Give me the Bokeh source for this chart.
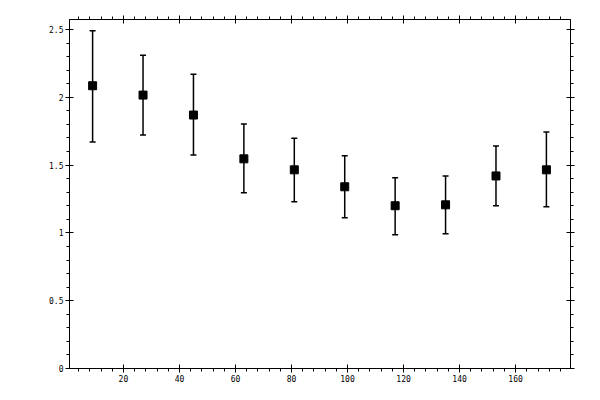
from bokeh.plotting import figure
from bokeh.models import (ColumnDataSource, Whisker, TeeHead, LinearAxis,
                          SingleIntervalTicker, Range1d, CustomJSTickFormatter)
from bokeh.embed import file_html
from bokeh.resources import INLINE

# data
x_vals = [9, 27, 45, 63, 81, 99, 117, 135, 153, 171]
y_vals = [2.085, 2.016, 1.869, 1.546, 1.465, 1.340, 1.200, 1.207, 1.420, 1.465]
y_upper = [2.491, 2.310, 2.170, 1.803, 1.697, 1.568, 1.406, 1.420, 1.641, 1.744]
y_lower = [1.671, 1.722, 1.575, 1.296, 1.229, 1.112, 0.987, 0.994, 1.200, 1.193]

src = ColumnDataSource(dict(x=x_vals, y=y_vals, upper=y_upper, lower=y_lower))

p = figure(width=584, height=384, output_backend="svg", toolbar_location=None,
           x_range=Range1d(0.75, 179.6), y_range=Range1d(0, 2.5735),
           x_axis_location=None, y_axis_location=None)
p.min_border_left = 69
p.min_border_right = 14
p.min_border_top = 19
p.min_border_bottom = 15
p.xgrid.visible = False
p.ygrid.visible = False
p.outline_line_color = "black"
p.background_fill_color = "white"
p.border_fill_color = "white"

FONT = "DejaVu Sans Mono"


def style(ax, labels=True):
    ax.axis_line_color = "black"
    ax.axis_line_width = 1
    ax.major_tick_line_color = "black"
    ax.minor_tick_line_color = "black"
    ax.major_tick_in = 4
    ax.major_tick_out = 4
    ax.minor_tick_in = 0
    ax.minor_tick_out = 3
    ax.major_label_text_font = FONT
    ax.major_label_text_font_size = "8px"
    ax.major_label_text_color = "black"
    ax.major_label_standoff = 2
    if not labels:
        ax.formatter = CustomJSTickFormatter(code="return ''")
        ax.major_label_standoff = 0


def xt():
    return SingleIntervalTicker(interval=20, num_minor_ticks=5)


def yt():
    return SingleIntervalTicker(interval=0.5, num_minor_ticks=5)


bottom = LinearAxis(ticker=xt())
style(bottom)
p.add_layout(bottom, "below")

top = LinearAxis(ticker=xt())
style(top, labels=False)
p.add_layout(top, "above")

left = LinearAxis(ticker=yt())
style(left)
p.add_layout(left, "left")

right = LinearAxis(ticker=yt())
style(right, labels=False)
p.add_layout(right, "right")

w = Whisker(source=src, base="x", upper="upper", lower="lower",
            line_color="black", line_width=1.5,
            upper_head=TeeHead(size=6, line_color="black", line_width=1.5),
            lower_head=TeeHead(size=6, line_color="black", line_width=1.5))
p.add_layout(w)

p.scatter("x", "y", source=src, marker="square", size=8,
          fill_color="black", line_color="black")

open("out.html", "w").write(file_html(p, INLINE))
